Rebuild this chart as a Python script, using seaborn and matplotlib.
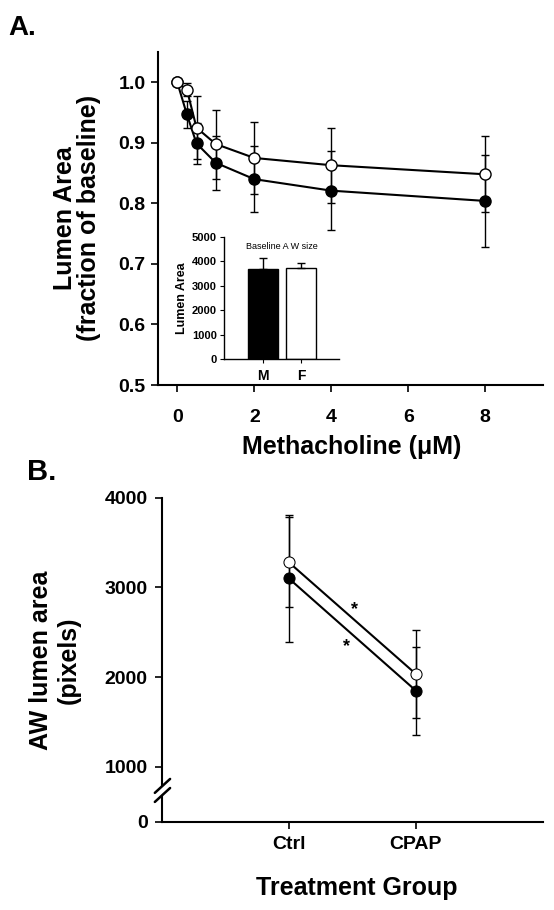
"""
Airway lumen area figure: (A) methacholine dose response with a
baseline-size inset, (B) lumen area by treatment group.
"""

import matplotlib
matplotlib.use("Agg")

import matplotlib.pyplot as plt
import numpy as np
import seaborn as sns

sns.set_style("ticks")
plt.rcParams["font.family"] = ["Liberation Sans", "DejaVu Sans"]
plt.rcParams["font.weight"] = "bold"
plt.rcParams["text.color"] = "black"
plt.rcParams["axes.labelcolor"] = "black"

# --- panel A: dose response -------------------------------------------------
conc = [0, 0.25, 0.5, 1, 2, 4, 8]
a_filled = [1.0, 0.947, 0.899, 0.867, 0.840, 0.821, 0.804]
a_filled_err = [0.0, 0.022, 0.034, 0.045, 0.055, 0.065, 0.076]
a_open = [1.0, 0.988, 0.925, 0.898, 0.875, 0.863, 0.848]
a_open_err = [0.0, 0.010, 0.052, 0.057, 0.059, 0.062, 0.063]
a_yticks = [0.5, 0.6, 0.7, 0.8, 0.9, 1.0]
a_xticks = [0, 2, 4, 6, 8]

# --- inset: baseline airway size -------------------------------------------
sexes = ["M", "F"]
base_area = [3680, 3710]
base_err = [440, 205]
inset_yticks = [0, 1000, 2000, 3000, 4000, 5000]

# --- panel B: treatment groups ---------------------------------------------
groups = ["Ctrl", "CPAP"]
b_filled = [3100, 1848]
b_filled_err = [707, 490]
b_open = [3280, 2034]
b_open_err = [500, 490]
b_yticks = [0, 1000, 2000, 3000, 4000]

W, H = 554, 910
fig = plt.figure(figsize=(W / 100, H / 100), dpi=100)


def px_axes(left, top, right, bottom):
    """Add axes from pixel edges (origin top-left)."""
    return fig.add_axes([left / W, 1 - bottom / H, (right - left) / W, (bottom - top) / H])


def style_axes(ax, lw=1.5, tick_len=5, size=14, pad=4):
    for side in ("top", "right"):
        ax.spines[side].set_visible(False)
    for side in ("left", "bottom"):
        ax.spines[side].set_linewidth(lw)
        ax.spines[side].set_color("black")
    ax.tick_params(direction="out", length=tick_len, width=lw * 0.8, labelsize=size,
                   pad=pad, colors="black")
    ax.minorticks_off()


# ---------------- panel A ----------------
ax_a = px_axes(158, 52, 543, 385)
ax_a.errorbar(conc, a_filled, yerr=a_filled_err, fmt="none", ecolor="black",
              elinewidth=1, capsize=3, capthick=1, zorder=1)
ax_a.errorbar(conc, a_open, yerr=a_open_err, fmt="none", ecolor="black",
              elinewidth=1, capsize=3, capthick=1, zorder=1)
sns.lineplot(x=conc, y=a_filled, ax=ax_a, color="black", linewidth=1.5, marker="o",
             markersize=8, markerfacecolor="black", markeredgecolor="black",
             markeredgewidth=1, zorder=2)
sns.lineplot(x=conc, y=a_open, ax=ax_a, color="black", linewidth=1.5, marker="o",
             markersize=8, markerfacecolor="white", markeredgecolor="black",
             markeredgewidth=1, zorder=3)
ax_a.set_xlim(-0.5, 9.5)
ax_a.set_ylim(0.5, 1.05)
ax_a.set_xticks(a_xticks)
ax_a.set_yticks(a_yticks)
ax_a.set_yticklabels([f"{v:.1f}" for v in a_yticks])
style_axes(ax_a)
ax_a.tick_params(axis="x", pad=12)
ax_a.set_xlabel("")
ax_a.set_ylabel("")

fig.text(8 / W, 1 - 35 / H, "A.", fontsize=20, fontweight="bold", ha="left", va="baseline")
fig.text(77 / W, 1 - 218 / H, "Lumen Area\n(fraction of baseline)", rotation=90,
         fontsize=18, fontweight="bold", ha="center", va="center",
         multialignment="center", linespacing=1.05)
fig.text(352 / W, 1 - 447 / H, "Methacholine (\u03bcM)", fontsize=18, fontweight="bold",
         ha="center", va="center")

# ---------------- inset ----------------
ax_in = px_axes(224, 236.7, 339, 359.3)
sns.barplot(x=sexes, y=base_area, hue=sexes, palette=["black", "white"],
            edgecolor="black", linewidth=1, width=0.78, legend=False, ax=ax_in)
ax_in.errorbar([0, 1], base_area, yerr=[[0, 0], base_err], fmt="none", ecolor="black",
               elinewidth=1, capsize=3, capthick=1)
ax_in.set_xlim(-1.03, 2.0)
ax_in.set_ylim(0, 5000)
ax_in.set_yticks(inset_yticks)
ax_in.patch.set_alpha(0)
style_axes(ax_in, lw=1, tick_len=3, size=8, pad=2)
ax_in.tick_params(axis="x", labelsize=10, pad=4)
ax_in.set_ylabel("Lumen Area", fontsize=9, fontweight="bold", labelpad=3)
ax_in.set_title("Baseline A W size", fontsize=6.5, fontweight="normal", pad=-9, y=1.0)

# ---------------- panel B ----------------
BREAK, SQUEEZE = 1000, 0.613


def _fwd(v):
    v = np.asarray(v, dtype=float)
    return np.where(v >= BREAK, v, BREAK - (BREAK - v) * SQUEEZE)


def _inv(t):
    t = np.asarray(t, dtype=float)
    return np.where(t >= BREAK, t, BREAK - (BREAK - t) / SQUEEZE)


ax_b = px_axes(161.7, 497.7, 543, 821.7)
ax_b.set_yscale("function", functions=(_fwd, _inv))
ax_b.errorbar([0, 1], b_filled, yerr=b_filled_err, fmt="none", ecolor="black",
              elinewidth=1, capsize=3, capthick=1, zorder=1)
ax_b.errorbar([0, 1], b_open, yerr=b_open_err, fmt="none", ecolor="black",
              elinewidth=1, capsize=3, capthick=1, zorder=1)
sns.lineplot(x=[0, 1], y=b_filled, ax=ax_b, color="black", linewidth=1.5, marker="o",
             markersize=8, markerfacecolor="black", markeredgecolor="black", zorder=2)
sns.lineplot(x=[0, 1], y=b_open, ax=ax_b, color="black", linewidth=1.5, marker="o",
             markersize=8, markerfacecolor="white", markeredgecolor="black", zorder=3)
ax_b.set_xlim(-1.0, 2.0)
ax_b.set_ylim(0, 4000)
ax_b.set_xticks([0, 1])
ax_b.set_xticklabels(groups)
ax_b.set_yticks(b_yticks)
ax_b.set_yticklabels([str(v) for v in b_yticks])
style_axes(ax_b, pad=5)
ax_b.tick_params(axis="x", pad=5)

ax_b.text(0.519, 2750, "*", fontsize=13, fontweight="bold", ha="center", va="center")
ax_b.text(0.453, 2338, "*", fontsize=13, fontweight="bold", ha="center", va="center")

# axis break: white gap across the spine, then two slanted strokes
ax_b.plot([-0.018, 0.022], [0.075, 0.118], transform=ax_b.transAxes,
          color="white", linewidth=4, clip_on=False, zorder=5)
for dy in (0.0, -0.028):
    ax_b.plot([-0.018, 0.022], [0.089 + dy, 0.132 + dy], transform=ax_b.transAxes,
              color="black", linewidth=1.8, clip_on=False, zorder=6)

fig.text(27 / W, 1 - 480 / H, "B.", fontsize=21, fontweight="bold", ha="left", va="baseline")
fig.text(55 / W, 1 - 660 / H, "AW lumen area\n(pixels)", rotation=90, fontsize=18,
         fontweight="bold", ha="center", va="center", multialignment="center",
         linespacing=1.2)
fig.text(357 / W, 1 - 888 / H, "Treatment Group", fontsize=18, fontweight="bold",
         ha="center", va="center")

fig.savefig("out.png", dpi=100)
plt.close(fig)
